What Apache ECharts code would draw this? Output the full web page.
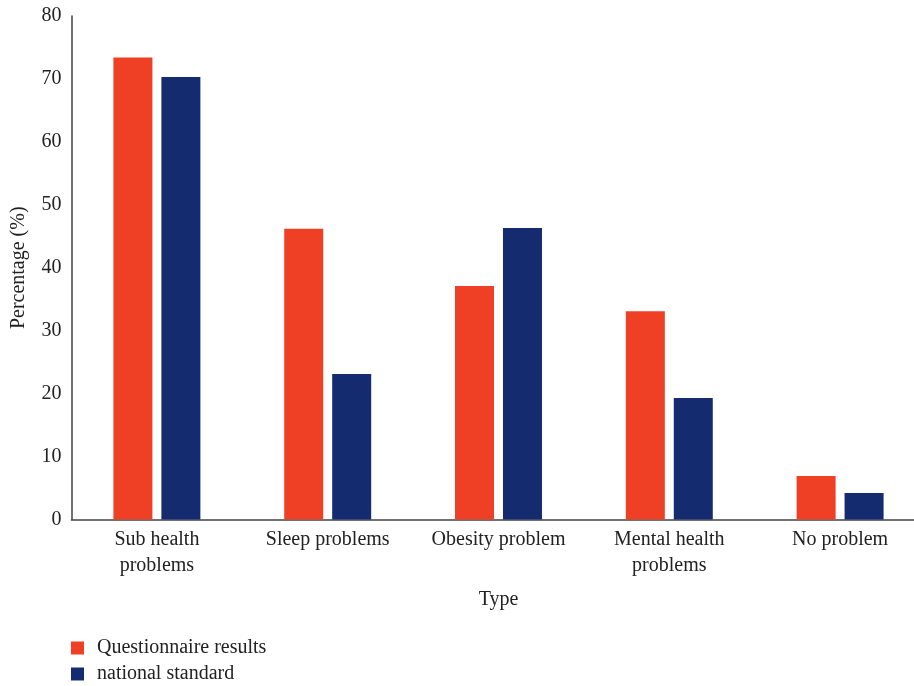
<!DOCTYPE html>
<html><head><meta charset="utf-8">
<script src="https://cdn.jsdelivr.net/npm/echarts@6/dist/echarts.min.js"></script>
<style>html,body{margin:0;padding:0;background:#fff}#c{width:914px;height:686px}</style>
</head><body><div id="c"></div>
<script>
const categories = ['Sub health\nproblems', 'Sleep problems', 'Obesity problem', 'Mental health\nproblems', 'No problem'];
const questionnaire = [73.4, 46.2, 37.1, 33.1, 6.9];
const nationalStandard = [70.3, 23.1, 46.3, 19.3, 4.2];
const yTicks = {min: 0, max: 80, interval: 10};

const font = 'Liberation Serif';
const fs = 20;
const chart = echarts.init(document.getElementById('c'));
chart.setOption({
  animation: false,
  textStyle: {fontFamily: font},
  grid: {left: 71.5, top: 16, width: 854, height: 503.5, containLabel: false, outerBoundsMode: 'none'},
  legend: {
    orient: 'vertical', left: 71, top: 637, height: 60, itemWidth: 13, itemHeight: 13, itemGap: 4,
    icon: 'rect', padding: 0,
    textStyle: {fontFamily: font, fontSize: fs, color: '#222', padding: [0, 0, 0, 8], lineHeight: 22},
    data: ['Questionnaire results', 'national standard']
  },
  xAxis: {
    type: 'category', data: categories,
    name: 'Type', nameLocation: 'middle', nameGap: 70,
    nameTextStyle: {fontFamily: font, fontSize: fs, color: '#222'},
    axisLine: {lineStyle: {color: '#444', width: 1.5}},
    axisTick: {show: false},
    axisLabel: {fontFamily: font, fontSize: fs, color: '#222', margin: 7, lineHeight: 26, interval: 0}
  },
  yAxis: {
    type: 'value', min: yTicks.min, max: yTicks.max, interval: yTicks.interval,
    name: 'Percentage (%)', nameLocation: 'middle', nameGap: 43,
    nameTextStyle: {fontFamily: font, fontSize: fs, color: '#222'},
    axisLine: {show: true, lineStyle: {color: '#444', width: 1.5}},
    axisTick: {show: false},
    splitLine: {show: false},
    axisLabel: {fontFamily: font, fontSize: fs, color: '#222', margin: 10}
  },
  series: [
    {name: 'Questionnaire results', type: 'bar', data: questionnaire, barWidth: 39, barGap: '23%',
     itemStyle: {color: '#EF3F25'}},
    {name: 'national standard', type: 'bar', data: nationalStandard, barWidth: 39,
     itemStyle: {color: '#142B6F'}}
  ]
});
</script></body></html>
